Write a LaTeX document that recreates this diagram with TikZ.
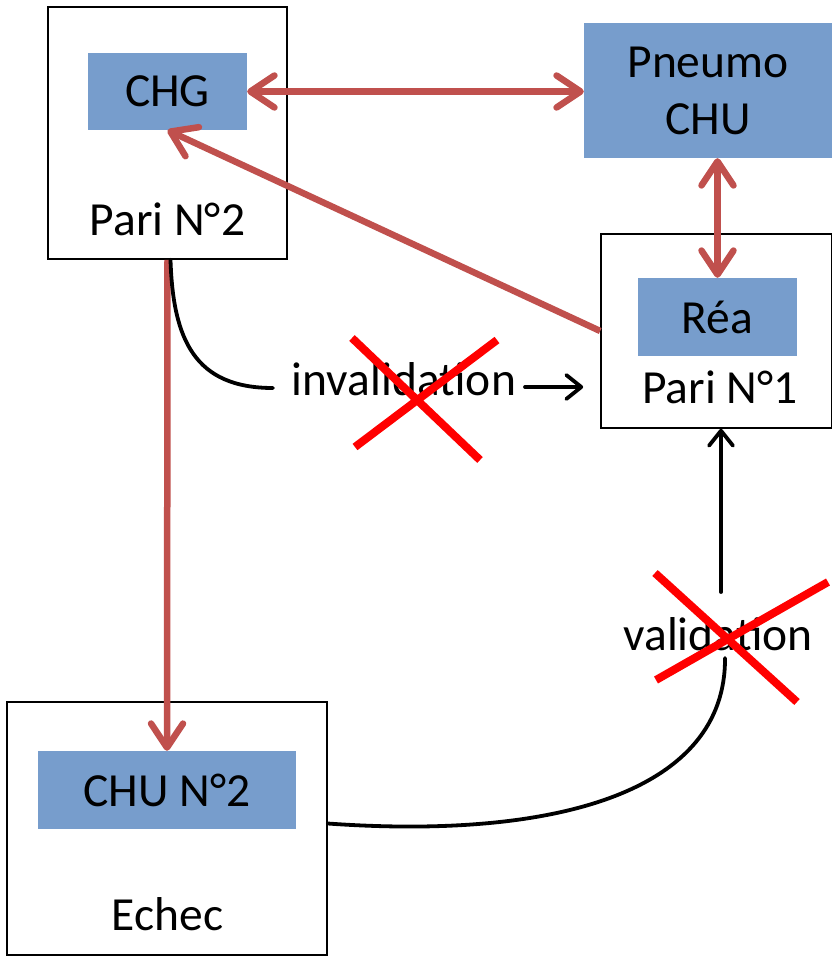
\documentclass[tikz,border=0pt]{standalone}
\usepackage{fontspec}
\setmainfont{Carlito}
\usepackage{tikz}
\usetikzlibrary{arrows.meta}
\usetikzlibrary{positioning}
\definecolor{unitblue}{RGB}{119,157,204}
\definecolor{linkred}{RGB}{192,80,77}
\tikzstyle{box_outer}=[draw=black, line width=1.6pt, fill=white, inner sep=0pt]
\tikzstyle{box_unit}=[fill=unitblue, inner sep=0pt, align=center, font=\fontsize{47.5}{57}\selectfont]
\tikzstyle{box_label}=[anchor=base, inner sep=0pt, font=\fontsize{47.5}{57}\selectfont]
\tikzstyle{link_red}=[draw=linkred, line width=6.5pt, -{Straight Barb[length=24pt,width=32pt,round]}]
\tikzstyle{link_red_both}=[link_red, {Straight Barb[length=24pt,width=32pt,round]}-{Straight Barb[length=24pt,width=32pt,round]}]
\tikzstyle{link_black}=[draw=black, line width=3.8pt, line cap=round]
\tikzstyle{link_black_tip}=[link_black, -{Straight Barb[length=15pt,width=24pt,round]}]
\tikzstyle{cross_out}=[draw=red, line width=8pt]

\begin{document}
\begin{tikzpicture}[x=1pt, y=-1pt]
          \useasboundingbox (0,0) rectangle (832,956);
          \node[box_outer, minimum width=239, minimum height=252] (pari2) at (167.5,133){};
          \node[box_outer, minimum width=231, minimum height=194] (pari1) at (716.5,331){};
          \node[box_outer, minimum width=320, minimum height=253] (echec) at (167,828.5){};
          \node[box_unit, minimum width=159, minimum height=77] (chg) at (167.5,91.5){CHG};
          \node[box_unit, minimum width=248, minimum height=135] (pneumo) at (708,90.5){Pneumo\\CHU};
          \node[box_unit, minimum width=159, minimum height=78] (rea) at (717.5,317){Réa};
          \node[box_unit, minimum width=258, minimum height=78] (chu2) at (167,790){CHU N°2};
          \node[box_label] (pari2lbl) at (167.5,235){Pari N°2};
          \node[box_label] (pari1lbl) at (720,403){Pari N°1};
          \node[box_label] (echeclbl) at (167.5,930){Echec};
          \node[box_label] (invallbl) at (404,395){invalidation};
          \node[box_label] (valilbl) at (718,650){validation};
          \coordinate (invin) at (273,388);
          \coordinate (invout) at (525,387);
          \coordinate (valin) at (725,658);
          \coordinate (valout) at (721,592);
          \draw[link_red_both] (chg.east) -- (chg.east -| pneumo.west);
          \draw[link_red_both] (pneumo.south -| rea.north) -- (rea.north);
          \draw[link_red] (pari1.west) -- (chg.south);
          \draw[link_red] (pari2.south) -- (chu2.north);
          \draw[link_black] ([xshift=3pt]pari2.south) .. controls (173,340) and (195,388) .. (invin);
          \draw[link_black_tip, shorten >=17pt] (invout) -- (pari1.west |- invout);
          \draw[link_black] ([yshift=5pt]echec.east) .. controls (560,840) and (726,790) .. (valin);
          \draw[link_black_tip] (valout) -- (pari1.south -| valout);
          \draw[cross_out] (352,338) -- (480,460) (497,340) -- (355,447);
          \draw[cross_out] (655,573) -- (797,702) (828,582) -- (656,680);
        \end{tikzpicture}
\end{document}
